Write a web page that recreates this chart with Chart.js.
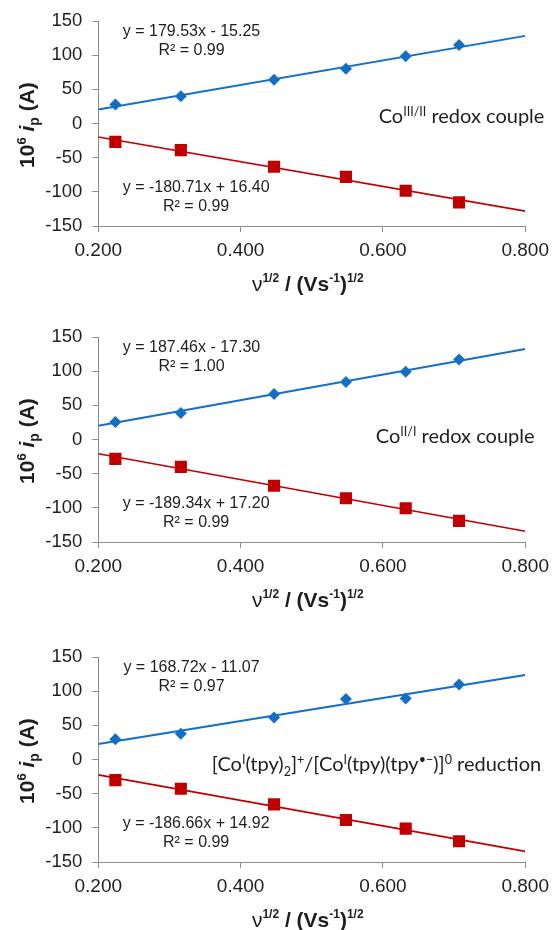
<!DOCTYPE html>
<html>
<head>
<meta charset="utf-8">
<script src="https://cdn.jsdelivr.net/npm/chart.js@4.4.1/dist/chart.umd.min.js"></script>
<style>
  html, body { margin: 0; padding: 0; background: #fff; overflow: hidden; }
  #wrap { position: relative; width: 556px; height: 930px; }
  canvas { position: absolute; left: 0; }
</style>
</head>
<body>
<div id="wrap">
  <canvas id="panel1" width="556" height="316" style="top:0px"></canvas>
  <canvas id="panel2" width="556" height="316" style="top:316px"></canvas>
  <canvas id="panel3" width="556" height="294" style="top:636px"></canvas>
</div>
<script>
// square root of the scan rate, (V s^-1)^1/2
const sqrtScanRate = [0.224, 0.316, 0.447, 0.548, 0.632, 0.707];

// peak currents, 10^6 i_p (A)
const anodicCo32   = [27.8, 40.0, 64.3, 80.4, 98.4, 115.0];
const cathodicCo32 = [-26.8, -39.0, -63.3, -78.0, -98.4, -115.5];
const anodicCo21   = [25.8, 38.9, 66.6, 84.1, 99.2, 117.2];
const cathodicCo21 = [-28.2, -39.9, -67.6, -86.0, -100.6, -119.1];
const anodicCo10   = [29.7, 37.9, 61.7, 88.5, 89.5, 109.9];
const cathodicCo10 = [-30.1, -42.8, -65.6, -88.5, -101.1, -119.6];

// least-squares fits per panel
const anodicSlope       = [179.53, 187.46, 168.72];
const anodicIntercept   = [-15.25, -17.30, -11.07];
const anodicR2          = [0.99, 1.00, 0.97];
const cathodicSlope     = [-180.71, -189.34, -186.66];
const cathodicIntercept = [16.40, 17.20, 14.92];
const cathodicR2        = [0.99, 0.99, 0.99];

// axis ticks
const xTicks = [0.2, 0.4, 0.6, 0.8];
const yTicks = [-150, -100, -50, 0, 50, 100, 150];

const BLUE = '#1170c6';
const RED = '#c00000';
const AXIS = '#8c8c8c';
const TEXT = '#1e1e1e';
const SANS = '"Liberation Sans", Arial, sans-serif';
const HUMANIST = 'Lato, "Open Sans", sans-serif';

const F_TITLE = 'bold 21px ' + SANS;
const F_TITLE_SMALL = 'bold 12px ' + SANS;
const F_NOTE = '16px ' + SANS;
const F_LABEL = '20px ' + HUMANIST;
const F_LABEL_SMALL = '12.5px ' + HUMANIST;

// draw a sequence of styled text runs on one baseline
function drawRuns(ctx, runs, x, y, align) {
  let total = 0;
  runs.forEach(r => { ctx.font = r.f; total += ctx.measureText(r.t).width; });
  let cx = align === 'center' ? x - total / 2 : x;
  ctx.textAlign = 'left';
  ctx.textBaseline = 'alphabetic';
  runs.forEach(r => {
    ctx.font = r.f;
    ctx.fillText(r.t, cx, y - (r.r || 0));
    cx += ctx.measureText(r.t).width;
  });
}

function equation(m, b) {
  const sign = b < 0 ? '-' : '+';
  return 'y = ' + m.toFixed(2) + 'x ' + sign + ' ' + Math.abs(b).toFixed(2);
}

const yTitleRuns = [
  { t: '10', f: F_TITLE },
  { t: '6', f: 'bold 13px ' + SANS, r: 8 },
  { t: ' ', f: F_TITLE },
  { t: 'i', f: 'italic bold 21px ' + SANS },
  { t: 'p', f: 'bold 14px ' + SANS, r: -5 },
  { t: ' (A)', f: F_TITLE }
];

const xTitleRuns = [
  { t: 'ν', f: '21px ' + SANS },
  { t: '1/2', f: F_TITLE_SMALL, r: 9 },
  { t: ' / (Vs', f: F_TITLE },
  { t: '-1', f: F_TITLE_SMALL, r: 9 },
  { t: ')', f: F_TITLE },
  { t: '1/2', f: F_TITLE_SMALL, r: 9 }
];

const panelLabels = [
  [
    { t: 'Co', f: F_LABEL },
    { t: 'III/II', f: F_LABEL_SMALL, r: 7 },
    { t: ' redox couple', f: F_LABEL }
  ],
  [
    { t: 'Co', f: F_LABEL },
    { t: 'II/I', f: F_LABEL_SMALL, r: 7 },
    { t: ' redox couple', f: F_LABEL }
  ],
  [
    { t: '[Co', f: F_LABEL },
    { t: 'I', f: F_LABEL_SMALL, r: 7 },
    { t: '(tpy)', f: F_LABEL },
    { t: '2', f: F_LABEL_SMALL, r: -5 },
    { t: ']', f: F_LABEL },
    { t: '+', f: F_LABEL_SMALL, r: 7 },
    { t: '/[Co', f: F_LABEL },
    { t: 'I', f: F_LABEL_SMALL, r: 7 },
    { t: '(tpy)(tpy', f: F_LABEL },
    { t: '•−', f: F_LABEL_SMALL, r: 7 },
    { t: ')]', f: F_LABEL },
    { t: '0', f: F_LABEL_SMALL, r: 7 },
    { t: ' reduction', f: F_LABEL }
  ]
];

// where each panel's label starts, in data units (x, y of baseline)
const labelAnchors = [[0.594, 1.2], [0.590, -4.6], [0.3595, -16.5]];

const panelText = {
  id: 'panelText',
  afterDraw(chart, args, opts) {
    const { ctx, chartArea, scales } = chart;
    const k = opts.index;
    ctx.save();
    ctx.fillStyle = TEXT;

    // y-axis title, rotated
    ctx.save();
    ctx.translate(26, (chartArea.top + chartArea.bottom) / 2 + 1.5);
    ctx.rotate(-Math.PI / 2);
    drawRuns(ctx, yTitleRuns, 0, 7.5, 'center');
    ctx.restore();

    // x-axis title
    drawRuns(ctx, xTitleRuns, (chartArea.left + chartArea.right) / 2 - 4, chartArea.bottom + 65, 'center');

    // fit equations
    const ax = scales.x.getPixelForValue(0.331);
    const ay = scales.y.getPixelForValue(127.8);
    drawRuns(ctx, [{ t: equation(anodicSlope[k], anodicIntercept[k]), f: F_NOTE }], ax, ay, 'center');
    drawRuns(ctx, [{ t: 'R² = ' + anodicR2[k].toFixed(2), f: F_NOTE }], ax, ay + 18.4, 'center');
    const cx = scales.x.getPixelForValue(0.3375);
    const cy = scales.y.getPixelForValue(-100.6);
    drawRuns(ctx, [{ t: equation(cathodicSlope[k], cathodicIntercept[k]), f: F_NOTE }], cx, cy, 'center');
    drawRuns(ctx, [{ t: 'R² = ' + cathodicR2[k].toFixed(2), f: F_NOTE }], cx, cy + 18.8, 'center');

    // redox couple label
    const [lx, ly] = labelAnchors[k];
    drawRuns(ctx, panelLabels[k], scales.x.getPixelForValue(lx), scales.y.getPixelForValue(ly), 'left');
    ctx.restore();
  }
};

function fitLine(m, b) {
  const x0 = xTicks[0], x1 = xTicks[xTicks.length - 1];
  return [{ x: x0, y: m * x0 + b }, { x: x1, y: m * x1 + b }];
}

function makePanel(id, k, anodic, cathodic) {
  const canvas = document.getElementById(id);
  const H = canvas.height;
  return new Chart(canvas, {
    type: 'scatter',
    data: {
      datasets: [
        {
          data: sqrtScanRate.map((x, i) => ({ x, y: anodic[i] })),
          pointStyle: 'rectRot', pointRadius: 6, backgroundColor: BLUE, borderWidth: 0
        },
        {
          data: sqrtScanRate.map((x, i) => ({ x, y: cathodic[i] })),
          pointStyle: 'rect', pointRadius: 8.6, backgroundColor: RED, borderWidth: 0
        },
        {
          data: fitLine(anodicSlope[k], anodicIntercept[k]),
          showLine: true, pointRadius: 0, borderColor: BLUE, borderWidth: 2
        },
        {
          data: fitLine(cathodicSlope[k], cathodicIntercept[k]),
          showLine: true, pointRadius: 0, borderColor: RED, borderWidth: 1.6
        }
      ]
    },
    options: {
      responsive: false,
      animation: false,
      devicePixelRatio: 1,
      layout: { padding: { top: 20.5, right: 27.7, left: 0, bottom: 0 } },
      plugins: {
        legend: { display: false },
        tooltip: { enabled: false },
        panelText: { index: k }
      },
      scales: {
        x: {
          type: 'linear', min: xTicks[0], max: xTicks[xTicks.length - 1],
          afterBuildTicks: s => { s.ticks = xTicks.map(v => ({ value: v })); },
          afterFit: s => { s.height = H - 226; },
          ticks: {
            callback: v => Number(v).toFixed(3),
            font: { family: SANS, size: 19 }, color: TEXT,
            padding: 7, maxRotation: 0, autoSkip: false
          },
          grid: { drawOnChartArea: false, tickLength: 6, color: AXIS },
          border: { color: AXIS, width: 1 }
        },
        y: {
          min: yTicks[0], max: yTicks[yTicks.length - 1],
          afterBuildTicks: s => { s.ticks = yTicks.map(v => ({ value: v })); },
          afterFit: s => { s.width = 98.3; },
          ticks: {
            font: { family: SANS, size: 18.5 }, color: TEXT,
            padding: 10, autoSkip: false
          },
          grid: { drawOnChartArea: false, tickLength: 6, color: AXIS },
          border: { color: AXIS, width: 1 }
        }
      }
    },
    plugins: [panelText]
  });
}

makePanel('panel1', 0, anodicCo32, cathodicCo32);
makePanel('panel2', 1, anodicCo21, cathodicCo21);
makePanel('panel3', 2, anodicCo10, cathodicCo10);
</script>
</body>
</html>
